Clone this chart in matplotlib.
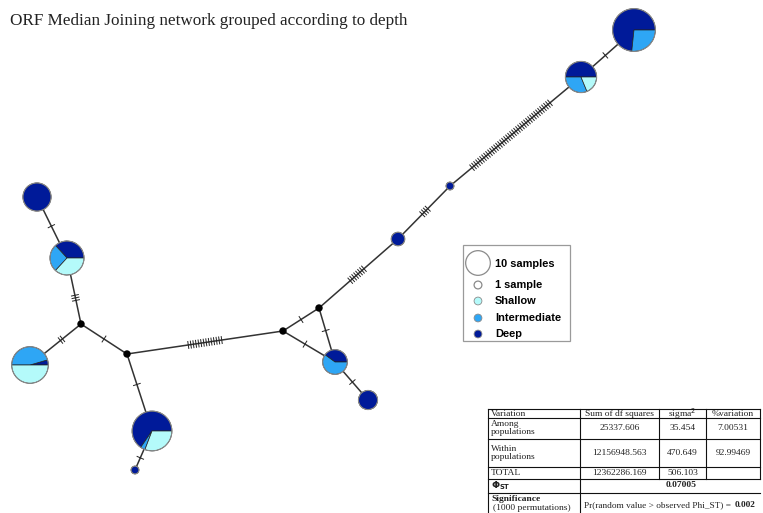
import numpy as np
import matplotlib
matplotlib.use("Agg")
import matplotlib.pyplot as plt
from matplotlib.patches import Wedge, Circle, Rectangle

# haplotype sample counts per depth group
hap_names = ["H1", "H2", "H3", "H4", "H5", "H6", "H7", "H8", "H9", "H10", "H11"]
deep = [22, 8, 1, 3, 4, 6, 17, 1, 1, 7, 13]
intermediate = [8, 5, 0, 0, 6, 0, 1, 0, 10, 5, 0]
shallow = [0, 3, 0, 0, 0, 0, 8, 0, 11, 7, 0]
median_vectors = ["MV1", "MV2", "MV3", "MV4"]

# network links: (from, to, number of mutations)
edges = [
    ("H1", "H2", 1), ("H2", "H3", 40), ("H3", "H4", 4), ("H4", "MV1", 8),
    ("MV1", "MV2", 1), ("MV1", "H5", 1), ("MV2", "H5", 1), ("H5", "H6", 1),
    ("MV2", "MV3", 14), ("MV3", "MV4", 1), ("MV3", "H7", 1), ("H7", "H8", 1),
    ("MV4", "H10", 3), ("MV4", "H9", 2), ("H10", "H11", 1),
]

# AMOVA table
amova_head = ["Variation", "Sum of df squares", "sigma$^2$", "%variation"]
amova_src = ["Among\npopulations", "Within\npopulations", "TOTAL"]
amova_ss = ["25337.606", "12156948.563", "12362286.169"]
amova_sigma = ["35.454", "470.649", "506.103"]
amova_pct = ["7.00531", "92.99469", ""]
phi_st = "0.07005"
p_value = "0.002"

groups = ["Shallow", "Intermediate", "Deep"]
colors = {"Shallow": "#b4fafa", "Intermediate": "#2ea6f5", "Deep": "#001a99"}

# layout (pixel positions of nodes in the drawing)
pos = {
    "H1": (634, 30), "H2": (581, 77), "H3": (450, 186), "H4": (398, 239),
    "H5": (335, 362), "H6": (368, 400), "H7": (152, 431), "H8": (135, 470),
    "H9": (30, 365), "H10": (67, 258), "H11": (37, 197),
    "MV1": (319, 308), "MV2": (283, 331), "MV3": (127, 354), "MV4": (81, 324),
}
K = 3.9  # radius per sqrt(sample)
MV_R = 3.0

W, H = 763, 513
fig = plt.figure(figsize=(W / 100, H / 100), dpi=100)
ax = fig.add_axes([0, 0, 1, 1])
ax.set_xlim(0, W)
ax.set_ylim(H, 0)
ax.axis("off")

radius = {}
for i, h in enumerate(hap_names):
    radius[h] = K * np.sqrt(deep[i] + intermediate[i] + shallow[i])
for m in median_vectors:
    radius[m] = MV_R


def draw_hatches(p, q, rp, rq, n, spacing=2.6, length=7):
    p = np.array(p, float)
    q = np.array(q, float)
    d = (q - p) / np.linalg.norm(q - p)
    a = p + d * rp
    b = q - d * rq
    mid = (a + b) / 2
    perp = np.array([-d[1], d[0]])
    for k in range(n):
        c = mid + d * (k - (n - 1) / 2) * spacing
        e1 = c + perp * length / 2
        e2 = c - perp * length / 2
        ax.plot([e1[0], e2[0]], [e1[1], e2[1]], color="#222222", lw=0.7, zorder=2)


for a, b, n in edges:
    (x1, y1), (x2, y2) = pos[a], pos[b]
    ax.plot([x1, x2], [y1, y2], color="#333333", lw=1.1, zorder=1)
    draw_hatches(pos[a], pos[b], radius[a], radius[b], n)

# pies: counter-clockwise on screen from 0 deg: Deep, Intermediate, Shallow
for i, h in enumerate(hap_names):
    counts = [deep[i], intermediate[i], shallow[i]]
    total = sum(counts)
    r = radius[h]
    start = 0.0
    for g, c in zip(["Deep", "Intermediate", "Shallow"], counts):
        if c == 0:
            continue
        ext = 360.0 * c / total
        # y axis is inverted, so screen angles are mirrored
        ax.add_patch(Wedge(pos[h], r, -(start + ext), -start,
                           facecolor=colors[g], edgecolor="#222222", lw=0.5, zorder=3))
        start += ext
    ax.add_patch(Circle(pos[h], r, facecolor="none", edgecolor="#8a8a8a", lw=0.8, zorder=4))

for m in median_vectors:
    ax.add_patch(Circle(pos[m], MV_R, facecolor="black", edgecolor="black", zorder=4))

# title
ax.text(10, 21, "ORF Median Joining network grouped according to depth",
        family="Liberation Serif", fontsize=12.3, color="#222222", va="center", ha="left")

# legend
ax.add_patch(Rectangle((463, 245), 107, 96, facecolor="white", edgecolor="#9a9a9a", lw=0.9, zorder=5))
lx, tx = 478, 495
lfs = 7.9
ax.add_patch(Circle((lx, 263), K * np.sqrt(10), facecolor="white", edgecolor="#8a8a8a", lw=0.9, zorder=6))
ax.text(tx, 264, "10 samples", fontsize=lfs, fontweight="bold", family="Liberation Sans",
        va="center", zorder=6)
ax.add_patch(Circle((lx, 285), K, facecolor="white", edgecolor="#8a8a8a", lw=0.9, zorder=6))
ax.text(tx, 285, "1 sample", fontsize=lfs, fontweight="bold", family="Liberation Sans",
        va="center", zorder=6)
for yy, g in zip([301, 318, 334], groups):
    ax.add_patch(Circle((lx, yy), K, facecolor=colors[g], edgecolor="#8a8a8a", lw=0.6, zorder=6))
    ax.text(tx, yy, g, fontsize=lfs, fontweight="bold", family="Liberation Sans",
            va="center", zorder=6)

# AMOVA table
cols = [488, 580, 659, 706, 760]
rows = [409, 418, 439, 467, 479, 493, 520]
tkw = dict(family="Liberation Serif", fontsize=6.8, color="#222222", va="center")
lkw = dict(color="#111111", lw=0.8)
for yy in rows[:-1]:
    ax.plot([cols[0], cols[-1]], [yy, yy], **lkw)
ax.plot([cols[0], cols[0]], [rows[0], rows[-1]], **lkw)
ax.plot([cols[1], cols[1]], [rows[0], rows[-1]], **lkw)
for xx in cols[2:4]:
    ax.plot([xx, xx], [rows[0], rows[4]], **lkw)
ax.plot([cols[-1], cols[-1]], [rows[0], rows[4]], **lkw)

ax.text(cols[0] + 3, (rows[0] + rows[1]) / 2, amova_head[0], ha="left", **tkw)
for j in range(1, 4):
    ax.text((cols[j] + cols[j + 1]) / 2, (rows[0] + rows[1]) / 2, amova_head[j], ha="center", **tkw)
for i in range(3):
    yc = (rows[i + 1] + rows[i + 2]) / 2
    ax.text(cols[0] + 3, yc, amova_src[i], ha="left", linespacing=1.0, **tkw)
    ax.text((cols[1] + cols[2]) / 2, yc, amova_ss[i], ha="center", **tkw)
    ax.text((cols[2] + cols[3]) / 2, yc, amova_sigma[i], ha="center", **tkw)
    ax.text((cols[3] + cols[4]) / 2, yc, amova_pct[i], ha="center", **tkw)
yc = (rows[4] + rows[5]) / 2
ax.text(cols[0] + 3, yc, r"$\mathbf{\Phi}_{\mathbf{ST}}$", ha="left", **tkw)
ax.text(681, yc - 1, phi_st, ha="center", fontweight="bold", **tkw)
ax.text(cols[0] + 3, 499, "Significance", ha="left", fontweight="bold", **tkw)
ax.text(cols[0] + 5, 508, "(1000 permutations)", ha="left", **tkw)
skw = dict(tkw, fontsize=6.7)
pr = ax.text(cols[1] + 4, 505, "Pr(random value > observed Phi_ST) = ", ha="left", **skw)
ax.annotate(p_value, xy=(1, 0.5), xycoords=pr, xytext=(1, 0), textcoords="offset points",
            ha="left", fontweight="bold", **skw)

fig.savefig("out.png", dpi=100)
